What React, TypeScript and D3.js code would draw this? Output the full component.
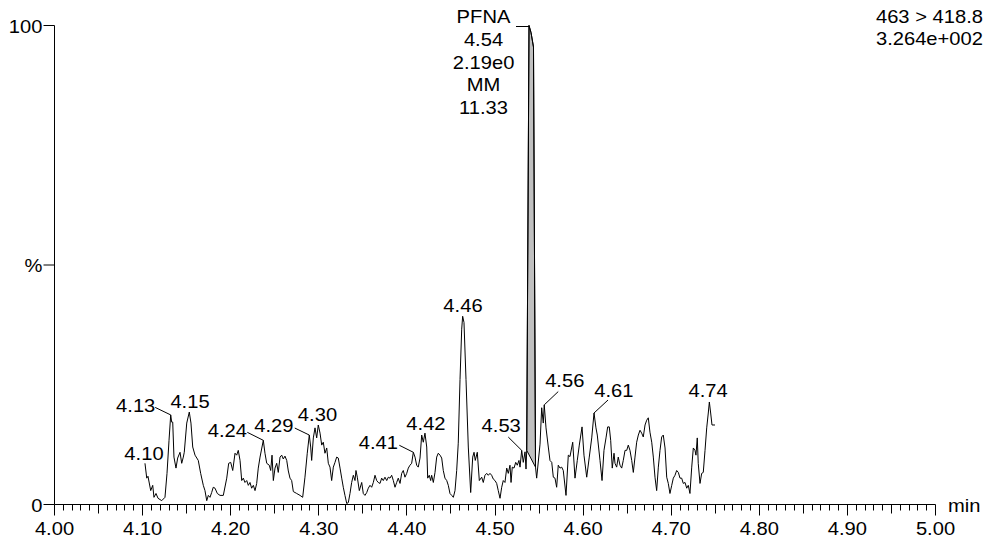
import React from "react";
import * as d3 from "d3";

// ---------- data ----------
const TIMES = [
  4.1027, 4.1047, 4.1061, 4.1092, 4.1115, 4.1129, 4.1152, 4.1175, 4.1217, 4.1254,
  4.1277, 4.13, 4.1319, 4.133, 4.1342, 4.1356, 4.1379, 4.1398, 4.1425, 4.1444,
  4.1462, 4.1473, 4.1501, 4.153, 4.1549, 4.1569, 4.1595, 4.1632, 4.1659, 4.1689,
  4.1708, 4.1728, 4.1746, 4.1765, 4.1784, 4.1802, 4.1822, 4.1848, 4.1879, 4.1916,
  4.1955, 4.1977, 4.2, 4.2023, 4.2049, 4.2068, 4.2086, 4.2106, 4.2125, 4.2143,
  4.2162, 4.2182, 4.22, 4.2219, 4.2238, 4.2257, 4.2276, 4.2295, 4.2313, 4.2333,
  4.237, 4.2389, 4.2409, 4.2438, 4.2454, 4.2469, 4.2484, 4.2503, 4.2522, 4.254,
  4.256, 4.2579, 4.2597, 4.2616, 4.2636, 4.2654, 4.2673, 4.2692, 4.2711, 4.2749,
  4.2787, 4.2817, 4.2843, 4.2869, 4.2892, 4.2908, 4.2919, 4.2938, 4.2957, 4.2976,
  4.2994, 4.3014, 4.3033, 4.3051, 4.307, 4.309, 4.3108, 4.3127, 4.3146, 4.3165,
  4.3184, 4.3203, 4.3221, 4.3241, 4.326, 4.3278, 4.3297, 4.3317, 4.3335, 4.3354,
  4.3373, 4.3392, 4.3411, 4.3422, 4.3437, 4.346, 4.3487, 4.3505, 4.3524, 4.3544,
  4.3562, 4.3581, 4.36, 4.3619, 4.3638, 4.3657, 4.3675, 4.3695, 4.3714, 4.3732,
  4.3751, 4.3771, 4.3789, 4.3808, 4.3827, 4.3846, 4.3865, 4.3884, 4.3902, 4.3922,
  4.3941, 4.3959, 4.3978, 4.3998, 4.4016, 4.4035, 4.4054, 4.4073, 4.4092, 4.4111,
  4.4129, 4.4149, 4.4168, 4.4186, 4.4205, 4.4225, 4.4236, 4.4254, 4.427, 4.4281,
  4.43, 4.4319, 4.4338, 4.4356, 4.4376, 4.4395, 4.4413, 4.4432, 4.4452, 4.447,
  4.4489, 4.4509, 4.4527, 4.4546, 4.4565, 4.4583, 4.4603, 4.4622, 4.4633, 4.4648,
  4.4671, 4.4697, 4.4724, 4.4747, 4.4762, 4.4776, 4.4799, 4.4822, 4.4849, 4.4867,
  4.4886, 4.4906, 4.4924, 4.4943, 4.4962, 4.4981, 4.5, 4.5019, 4.5037, 4.5057,
  4.5076, 4.5094, 4.5113, 4.5133, 4.5151, 4.517, 4.5182, 4.5196, 4.5216, 4.5235,
  4.5253, 4.5272, 4.5284, 4.5303, 4.5321, 4.5341, 4.5352, 4.536, 4.5386, 4.5409,
  4.5437, 4.546, 4.5473, 4.5511, 4.553, 4.5548, 4.5559, 4.5579, 4.5605, 4.5624,
  4.5644, 4.5662, 4.5681, 4.57, 4.5718, 4.5738, 4.5757, 4.5775, 4.5806, 4.5832,
  4.5851, 4.5882, 4.5908, 4.5934, 4.5957, 4.5988, 4.601, 4.6041, 4.607, 4.6098,
  4.6124, 4.6146, 4.6161, 4.6192, 4.6215, 4.6237, 4.626, 4.6279, 4.6297, 4.6313,
  4.6331, 4.6351, 4.6362, 4.6381, 4.6399, 4.6419, 4.6438, 4.6456, 4.6476, 4.6495,
  4.6513, 4.6532, 4.6552, 4.657, 4.6589, 4.6608, 4.6627, 4.6646, 4.6665, 4.6683,
  4.6703, 4.6722, 4.674, 4.6759, 4.6779, 4.6797, 4.6816, 4.6835, 4.6854, 4.6873,
  4.6892, 4.691, 4.693, 4.6949, 4.6967, 4.6986, 4.7006, 4.7024, 4.7043, 4.7062,
  4.7081, 4.71, 4.7119, 4.7137, 4.7157, 4.7176, 4.7194, 4.7213, 4.7233, 4.7251,
  4.727, 4.7281, 4.7296, 4.7307, 4.7327, 4.7346, 4.7364, 4.7384, 4.7403, 4.7421,
  4.7433, 4.7448, 4.7463, 4.7497,
];

const INTENSITY = [
  8.6, 5.5, 5.9, 2.9, 4.0, 1.5, 2.3, 1.3, 0.8, 1.5,
  6.5, 13.4, 18.7, 17.2, 17.2, 9.9, 7.6, 9.7, 10.9, 8.6,
  9.9, 10.9, 17.0, 19.3, 17.0, 12.0, 10.3, 9.2, 6.5, 4.0,
  2.9, 0.8, 1.9, 1.5, 2.5, 3.6, 3.4, 2.3, 1.9, 1.9,
  5.5, 8.6, 8.8, 7.1, 10.7, 10.3, 11.3, 9.2, 5.0, 5.5,
  4.6, 5.0, 4.0, 4.6, 3.4, 4.0, 2.9, 4.4, 7.6, 9.9,
  13.4, 10.7, 8.6, 8.2, 7.1, 10.3, 5.0, 7.6, 8.6, 6.7,
  9.9, 10.3, 9.5, 10.1, 9.2, 7.0, 5.5, 5.0, 2.7, 2.3,
  1.9, 1.5, 5.7, 10.7, 14.5, 12.0, 9.2, 13.9, 16.0, 13.9,
  16.6, 14.9, 12.4, 13.0, 10.7, 11.8, 8.6, 7.8, 5.0, 7.8,
  8.8, 9.9, 9.7, 7.6, 5.5, 3.6, 1.9, 0.2, 0.4, 2.3,
  4.6, 6.1, 5.0, 7.1, 5.7, 2.9, 4.6, 2.3, 1.9, 2.5,
  3.4, 4.0, 3.6, 4.6, 6.1, 5.0, 4.6, 4.4, 5.5, 5.0,
  5.7, 5.0, 5.7, 5.5, 6.1, 5.0, 3.6, 4.6, 5.5, 4.4,
  6.5, 7.1, 5.7, 6.5, 7.6, 8.2, 8.6, 10.9, 9.9, 8.2,
  7.8, 9.7, 14.5, 13.0, 14.9, 12.0, 5.5, 6.1, 5.0, 6.1,
  4.6, 6.7, 9.9, 10.7, 10.3, 9.7, 7.1, 5.5, 5.0, 4.0,
  2.3, 1.9, 1.5, 2.9, 7.1, 12.8, 26.1, 36.6, 39.3, 38.0,
  26.1, 12.0, 2.5, 9.9, 10.9, 9.2, 10.9, 5.0, 5.7, 4.6,
  6.1, 6.5, 6.1, 6.5, 6.1, 5.3, 5.0, 4.4, 2.9, 1.3,
  3.6, 5.0, 4.6, 7.6, 6.5, 8.2, 4.6, 7.8, 7.6, 8.8,
  8.2, 9.2, 7.8, 11.3, 8.8, 11.0, 7.4, 11.3, 100, 98.5,
  95.5, 7.8, 5.5, 12.6, 20.2, 17.0, 20.8, 16.0, 12.0, 9.2,
  8.8, 5.7, 5.5, 3.6, 8.2, 7.6, 7.8, 7.1, 1.9, 10.3,
  10.0, 13.0, 5.5, 9.2, 12.4, 16.2, 10.3, 5.7, 9.9, 13.9,
  19.1, 16.0, 14.5, 9.2, 5.0, 11.3, 13.9, 16.2, 16.2, 13.4,
  7.6, 10.7, 8.6, 7.8, 9.9, 8.2, 7.6, 9.2, 11.3, 11.3,
  12.4, 11.3, 9.2, 6.7, 9.9, 13.0, 14.5, 15.5, 14.9, 14.1,
  16.6, 17.6, 18.1, 15.1, 13.0, 9.9, 5.7, 2.9, 7.8, 11.3,
  14.1, 14.5, 11.8, 5.7, 4.4, 2.3, 4.0, 5.5, 6.1, 7.1,
  6.7, 5.5, 5.5, 4.4, 4.6, 3.4, 4.0, 2.3, 7.8, 11.8,
  11.3, 10.3, 13.9, 8.6, 4.4, 6.5, 6.7, 11.3, 16.0, 19.1,
  21.4, 19.1, 16.6, 16.6,
];

// integrated peak (PFNA)
const PEAK_START = 4.536;
const PEAK_END = 4.546;
const PEAK_APEX = 4.5386;
const PEAK_INFO = ["PFNA", "4.54", "2.19e0", "MM", "11.33"];

// peak time labels
const LABEL_TEXT = ["4.10", "4.13", "4.15", "4.24", "4.29", "4.30", "4.41", "4.42", "4.46", "4.53", "4.56", "4.61", "4.74"];
const LABEL_APEX = [4.1027, 4.1319, 4.153, 4.237, 4.2892, 4.2994, 4.4073, 4.4205, 4.4633, 4.5303, 4.5559, 4.6124, 4.7433];

const X_TICKS = [4.0, 4.1, 4.2, 4.3, 4.4, 4.5, 4.6, 4.7, 4.8, 4.9, 5.0];
const X_TICK_LABELS = ["4.00", "4.10", "4.20", "4.30", "4.40", "4.50", "4.60", "4.70", "4.80", "4.90", "5.00"];
const Y_TICKS = [0, 50, 100];
const Y_TICK_LABELS = ["0", "%", "100"];
const HEADER = ["463 > 418.8", "3.264e+002"];

// ---------- layout (pixels, not data) ----------
const W = 986;
const H = 538;
const X0 = 54.5;
const X1 = 935.5;
const Y0 = 504.5;
const Y100 = 25.5;
const FONT = "'Liberation Sans', Arial, Helvetica, sans-serif";
const FS = 18;
const SX = 1.12;
// text offset relative to labelled point: [dx, dy, leaderDx, leaderDy] (leader null => none)
const LABEL_LAYOUT: [number, number, number | null, number | null][] = [
  [-1, -3, null, null],
  [-35, -3, -15.5, -7.5],
  [0.7, -4, null, null],
  [-36, -3, -16, -8],
  [-35.5, -3, -14.5, -7],
  [-0.8, -3.5, null, null],
  [-35, -3, -14, -7],
  [1, -3, null, null],
  [0.3, -4, null, null],
  [-20.5, -18.3, -13.4, -13.3],
  [20.5, -18, 14, -13.3],
  [19.8, -16.3, 14, -13],
  [-1.3, -5.3, null, null],
];

function Txt({ x, y, anchor = "middle", children }: any) {
  return (
    <text
      transform={`translate(${x},${y}) scale(${SX},1)`}
      textAnchor={anchor}
      fontSize={FS}
      fontFamily={FONT}
      fill="#000"
    >
      {children}
    </text>
  );
}

export default function App() {
  const x = d3.scaleLinear().domain([4.0, 5.0]).range([X0, X1]);
  const y = d3.scaleLinear().domain([0, 100]).range([Y0, Y100]);

  const pts = TIMES.map((t, i) => ({ t, v: INTENSITY[i] }));
  const line = d3
    .line<{ t: number; v: number }>()
    .x((d) => x(d.t))
    .y((d) => y(d.v));

  const peakPts = pts.filter((d) => d.t >= PEAK_START - 1e-6 && d.t <= PEAK_END + 1e-6);
  const peakPoly = peakPts.map((d) => `${x(d.t)},${y(d.v)}`).join(" ");

  const nearest = (t: number) => {
    let best = pts[0];
    for (const p of pts) if (Math.abs(p.t - t) < Math.abs(best.t - t)) best = p;
    return best;
  };

  const minorTicks = d3.range(0, 101).map((i) => 4 + i / 100);

  const apex = nearest(PEAK_APEX);
  const ax = x(apex.t);
  const ay = y(apex.v);

  return (
    <svg
      width={W}
      height={H}
      style={{ position: "absolute", left: 0, top: 0, background: "#fff" }}
    >
      <rect x={0} y={0} width={W} height={H} fill="#fff" />
      {/* integrated peak */}
      <polygon points={peakPoly} fill="#c0c0c0" stroke="#000" strokeWidth={1} />
      {/* trace */}
      <path d={line(pts) || ""} fill="none" stroke="#000" strokeWidth={1} strokeLinejoin="round" />

      {/* axes */}
      <line x1={X0} x2={X0} y1={Y100} y2={Y0} stroke="#000" strokeWidth={1} />
      <line x1={X0} x2={X1} y1={Y0} y2={Y0} stroke="#000" strokeWidth={1} />
      {minorTicks.map((t, i) => {
        const len = i % 10 === 0 ? 11 : i % 5 === 0 ? 9 : 6;
        const px = Math.round(x(t) - 0.5) + 0.5;
        return <line key={i} x1={px} x2={px} y1={Y0} y2={Y0 + len} stroke="#000" strokeWidth={1} />;
      })}
      {X_TICKS.map((t, i) => (
        <Txt key={i} x={x(t)} y={535}>
          {X_TICK_LABELS[i]}
        </Txt>
      ))}
      <Txt x={948} y={512} anchor="start">
        min
      </Txt>
      {Y_TICKS.map((v, i) => (
        <g key={i}>
          <line x1={X0 - 11} x2={X0} y1={y(v)} y2={y(v)} stroke="#000" strokeWidth={1} />
          <Txt x={X0 - 12} y={y(v) + 7} anchor="end">
            {Y_TICK_LABELS[i]}
          </Txt>
        </g>
      ))}

      {/* header */}
      {HEADER.map((s, i) => (
        <Txt key={i} x={983} y={22.7 + i * 22.5} anchor="end">
          {s}
        </Txt>
      ))}

      {/* PFNA peak annotation */}
      <polyline
        points={`${ax - 13},${ay + 1} ${ax},${ay + 1}`}
        fill="none"
        stroke="#000"
        strokeWidth={1}
      />
      {PEAK_INFO.map((s, i) => (
        <Txt key={i} x={ax - 45.5} y={ay - 2.5 + i * 22.8}>
          {s}
        </Txt>
      ))}

      {/* peak time labels */}
      {LABEL_TEXT.map((s, i) => {
        const p = nearest(LABEL_APEX[i]);
        const px = x(p.t);
        const py = y(p.v);
        const [dx, dy, lx, ly] = LABEL_LAYOUT[i];
        return (
          <g key={i}>
            {lx !== null && ly !== null && (
              <line x1={px + lx} y1={py + ly} x2={px} y2={py} stroke="#000" strokeWidth={1} />
            )}
            <Txt x={px + dx} y={py + dy}>
              {s}
            </Txt>
          </g>
        );
      })}
    </svg>
  );
}
